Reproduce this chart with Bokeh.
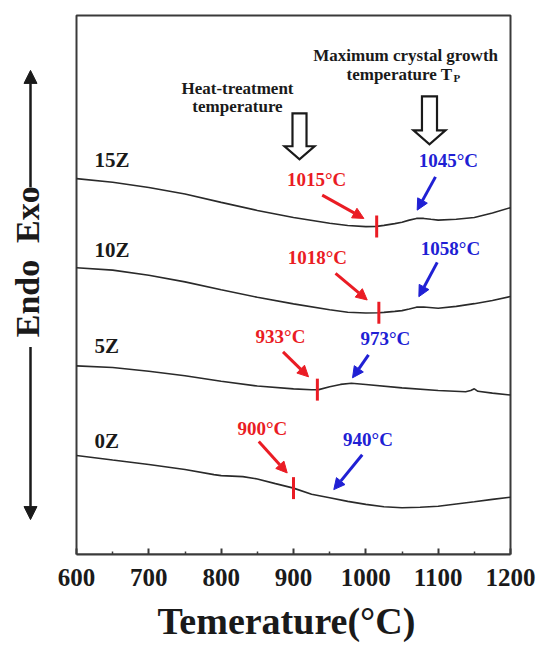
import numpy as np
from bokeh.plotting import figure
from bokeh.models import Range1d, Label, Arrow, NormalHead, FixedTicker, Title
from bokeh.core.properties import value
from bokeh.embed import file_html
from bokeh.resources import INLINE

# ---------------- data (DSC traces, arbitrary units, offset per sample) ----------------
samples = ["15Z", "10Z", "5Z", "0Z"]

temp_15z = [600, 650, 700, 750, 800, 850, 900, 950, 975, 1000, 1015, 1025, 1040, 1050,
            1060, 1070, 1080, 1090, 1100, 1125, 1150, 1175, 1200]
dsc_15z = [37.66, 37.29, 36.77, 36.11, 35.28, 34.47, 33.76, 33.18, 32.96, 32.85, 32.87, 32.97,
           33.15, 33.29, 33.5, 33.67, 33.67, 33.58, 33.5, 33.59, 33.77, 34.22, 34.75]

temp_10z = [600, 650, 700, 750, 800, 850, 900, 950, 975, 1000, 1018, 1025, 1040, 1050, 1060,
            1070, 1080, 1100, 1125, 1150, 1175, 1200]
dsc_10z = [28.73, 28.49, 27.97, 27.31, 26.53, 25.77, 25.11, 24.52, 24.27, 24.2, 24.22, 24.26,
           24.36, 24.43, 24.6, 24.78, 24.8, 24.67, 24.86, 25.13, 25.45, 25.85]

temp_5z = [600, 650, 700, 750, 800, 850, 900, 925, 935, 950, 965, 980, 1000, 1050, 1100, 1138,
           1145, 1150, 1155, 1175, 1200]
dsc_5z = [18.9, 18.73, 18.36, 17.91, 17.36, 16.88, 16.59, 16.5, 16.52, 16.81, 17.04, 17.16,
          17.03, 16.69, 16.43, 16.3, 16.43, 16.6, 16.35, 16.17, 15.98]

temp_0z = [600, 650, 700, 750, 790, 800, 830, 850, 875, 900, 925, 950, 975, 1000, 1025, 1050,
           1075, 1100, 1125, 1150, 1175, 1200]
dsc_0z = [9.92, 9.46, 9.02, 8.52, 8.0, 7.9, 7.8, 7.57, 7.1, 6.65, 6.03, 5.69, 5.32, 5.02, 4.78,
          4.68, 4.74, 4.84, 5.06, 5.28, 5.52, 5.74]

heat_treatment_temp = [1015, 1018, 933, 900]   # red markers
max_growth_temp = [1045, 1058, 973, 940]       # blue labels (T_P)

x_ticks = [600, 700, 800, 900, 1000, 1100, 1200]
x_minor_ticks = [650, 750, 850, 950, 1050, 1150]
x_min, x_max = 600, 1200
y_min, y_max = 0, 54
x_title = "Temerature(°C)"

curves = {
    "15Z": (temp_15z, dsc_15z),
    "10Z": (temp_10z, dsc_10z),
    "5Z": (temp_5z, dsc_5z),
    "0Z": (temp_0z, dsc_0z),
}

# ---------------- annotation layout (data units) ----------------
sample_label_x = 625
sample_label_y = [39.5, 30.5, 20.9, 11.4]
ht_label_xy = [(932, 37.6), (933, 29.75), (882, 21.8), (857, 12.65)]
tp_label_xy = [(1114, 39.5), (1117, 30.65), (1027, 21.65), (1003, 11.5)]
ht_arrow_xy = [(939.7, 36.0, 997.3, 33.67), (958.1, 28.17, 1001.9, 25.5),
               (885.5, 20.3, 920.8, 17.8), (852.0, 11.33, 891.3, 8.17)]
tp_arrow_xy = [(1096.3, 37.83, 1071.0, 34.5), (1098.7, 29.27, 1073.3, 25.83),
               (1003.7, 20.0, 981.6, 17.7), (995.0, 10.0, 955.7, 6.5)]
marker_half = 1.1

FONT = "Liberation Serif"
RED = "#ea1c24"
BLUE = "#2020d4"
INK = "#1a1a1a"
FRAME = "#3a3a3a"

W, H = 537, 650
LEFT, RIGHT, TOP, BOTTOM = 76, 27, 15, 96          # pixel margins around the data box
px_x = (x_max - x_min) / (W - LEFT - RIGHT)        # degC per pixel
px_y = (y_max - y_min) / (H - TOP - BOTTOM)        # units per pixel

p = figure(width=W, height=H,
           x_range=Range1d(x_min - LEFT * px_x, x_max + RIGHT * px_x),
           y_range=Range1d(y_min, y_max + TOP * px_y),
           output_backend="svg", toolbar_location=None, title=None,
           min_border_left=0, min_border_right=0, min_border_top=0, min_border_bottom=BOTTOM)
p.grid.visible = False
p.yaxis.visible = False
p.outline_line_color = None
p.background_fill_color = "white"
p.border_fill_color = "white"

xa = p.xaxis[0]
xa.bounds = (x_min, x_max)
xa.ticker = FixedTicker(ticks=x_ticks, minor_ticks=x_minor_ticks)
xa.axis_line_color = FRAME
xa.axis_line_width = 2
xa.major_tick_in = 6
xa.major_tick_out = 0
xa.minor_tick_in = 3
xa.minor_tick_out = 0
xa.major_tick_line_width = 2
xa.minor_tick_line_width = 1.5
xa.major_tick_line_color = FRAME
xa.minor_tick_line_color = FRAME
xa.major_label_text_font = FONT
xa.major_label_text_font_style = "bold"
xa.major_label_text_font_size = "25px"
xa.major_label_text_color = INK
xa.major_label_standoff = 14

# x-axis title, placed under the centre of the data box
p.add_layout(Title(text=x_title, align="left", offset=157,
                   text_font=FONT, text_font_style="bold", text_font_size="38px",
                   text_line_height=0.9, text_color=INK, standoff=18), "below")

# plot box
p.quad(left=[x_min], right=[x_max], bottom=[y_min], top=[y_max], fill_color=None,
       line_color=FRAME, line_width=2)

# curves
for name in samples:
    t, s = curves[name]
    p.line(t, s, line_color="#2a2a2a", line_width=1.6)

# red heat-treatment markers on the curves
centers = [float(np.interp(ht, curves[n][0], curves[n][1])) for n, ht in zip(samples, heat_treatment_temp)]
p.segment(x0=heat_treatment_temp, x1=heat_treatment_temp,
          y0=[c - marker_half for c in centers], y1=[c + marker_half for c in centers],
          line_color=RED, line_width=3)

# sample labels
p.text(x=[sample_label_x] * len(samples), y=sample_label_y, text=samples,
       text_font=value(FONT), text_font_style="bold", text_font_size="21px",
       text_color=INK, text_align="left", text_baseline="middle")

# temperature labels
p.text(x=[xy[0] for xy in ht_label_xy], y=[xy[1] for xy in ht_label_xy],
       text=[f"{v}°C" for v in heat_treatment_temp],
       text_font=value(FONT), text_font_style="bold", text_font_size="19px",
       text_color=RED, text_align="center", text_baseline="middle")
p.text(x=[xy[0] for xy in tp_label_xy], y=[xy[1] for xy in tp_label_xy],
       text=[f"{v}°C" for v in max_growth_temp],
       text_font=value(FONT), text_font_style="bold", text_font_size="19px",
       text_color=BLUE, text_align="center", text_baseline="middle")

for (x0, y0, x1, y1) in ht_arrow_xy:
    p.add_layout(Arrow(end=NormalHead(size=11, fill_color=RED, line_color=RED),
                       x_start=x0, y_start=y0, x_end=x1, y_end=y1,
                       line_color=RED, line_width=3))
for (x0, y0, x1, y1) in tp_arrow_xy:
    p.add_layout(Arrow(end=NormalHead(size=11, fill_color=BLUE, line_color=BLUE),
                       x_start=x0, y_start=y0, x_end=x1, y_end=y1,
                       line_color=BLUE, line_width=3))

# hollow block arrows
def block_arrow(cx, top, shaft_bottom, tip, shaft_half, head_half):
    xs = [cx - shaft_half, cx + shaft_half, cx + shaft_half, cx + head_half, cx,
          cx - head_half, cx - shaft_half]
    ys = [top, top, shaft_bottom, shaft_bottom, tip, shaft_bottom, shaft_bottom]
    return xs, ys

for args in [(908.3, 44.2, 40.9, 39.6, 9.7, 20.7), (1088.0, 45.9, 42.5, 41.1, 10.4, 22.1)]:
    bx, by = block_arrow(*args)
    p.patch(bx, by, fill_color="white", line_color=INK, line_width=2.2, line_join="miter")

def lab(x, y, text, size, color=INK, align="center", angle=0.0):
    p.add_layout(Label(x=x, y=y, text=text, text_font=FONT, text_font_style="bold",
                       text_font_size=size, text_color=color, text_align=align,
                       text_baseline="middle", angle=angle))

lab(822.6, 46.7, "Heat-treatment", "17px")
lab(822.6, 44.9, "temperature", "17px")
lab(1055.0, 50.0, "Maximum crystal growth", "17px")
lab(973.3, 48.1, "temperature T", "17px", align="left")
lab(1121.2, 47.7, "P", "11px", align="left")

# Endo / Exo indicator left of the box
side_x = x_min - 46 * px_x
lab(x_min - 49.5 * px_x, 34.05, "Exo", "34px", angle=np.pi / 2)
lab(x_min - 49.5 * px_x, 25.65, "Endo", "34px", angle=np.pi / 2)
p.add_layout(Arrow(end=NormalHead(size=13, fill_color=INK, line_color=INK),
                   x_start=side_x, y_start=36.8, x_end=side_x, y_end=48.5,
                   line_color=INK, line_width=2.5))
p.add_layout(Arrow(end=NormalHead(size=13, fill_color=INK, line_color=INK),
                   x_start=side_x, y_start=20.8, x_end=side_x, y_end=3.5,
                   line_color=INK, line_width=2.5))

open("out.html", "w").write(file_html(p, INLINE))
